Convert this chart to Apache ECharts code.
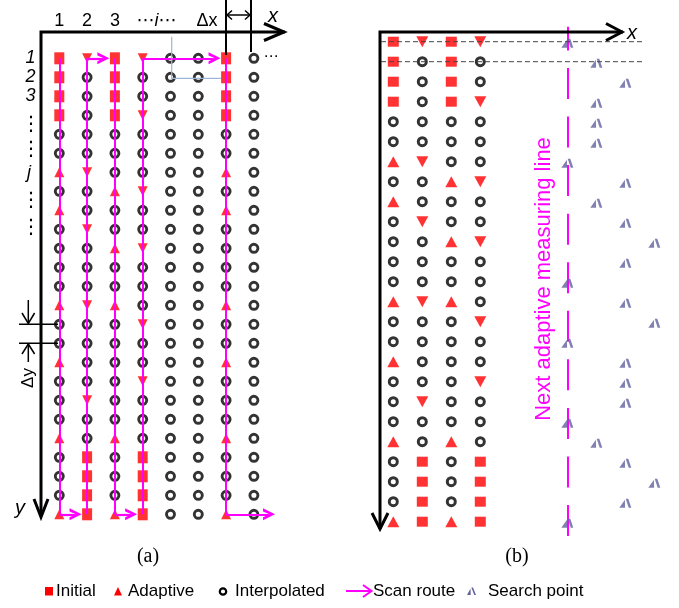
<!DOCTYPE html>
<html><head><meta charset="utf-8">
<script src="https://cdn.jsdelivr.net/npm/echarts@6/dist/echarts.min.js"></script>
<style>html,body{margin:0;padding:0;background:#fff}#c{width:679px;height:608px}</style>
</head><body><div id="c"></div>
<script>
// ---------------- data ----------------
// S = initial, U = adaptive (up), D = adaptive (down), O = interpolated
const gridRows = [
  'SDSDOOSO', 'SOSOOOSO', 'SOSOOOSO', 'SOSDOOSO', 'OOOOOOOO',
  'OOOOOOOO', 'UDOOOOUO', 'OOUDOOOO', 'UOOOOOUO', 'ODOOOOOO',
  'OOUDOOOO', 'OOOOOOOO', 'OOOOOOOO', 'UDUOOOUO', 'OOODOOOO',
  'OOOOOOOO', 'UOOOOOUO', 'OOODOOOO', 'ODOOOOOO', 'OOOOOOOO',
  'UOUOOOUO', 'OSOSOOOO', 'OSOSOOOO', 'OSOSOOOO', 'USUSOOUO'
];
const panelBColumns = 4;
const scanColumns = [1, 2, 3, 4, 7];
const searchCols = [7,8,9,8,8,8,7,9,8,9,10,9,7,9,10,7,9,9,9,7,8,9,10,9,7];
const nextLineCol = 7;
const colLabels = ['1', '2', '3'];
const rowLabels = ['1', '2', '3'];
const legendNames = ['Initial', 'Adaptive', 'Interpolated', 'Scan route', 'Search point'];
const captions = ['(a)', '(b)'];

// ---------------- layout / style ----------------
const RED = '#ff0000', MAG = '#ff00ff', SEARCH = '#62629e';
const SANS = '"Liberation Sans", Arial, "DejaVu Sans"';
const A = {left: 0, top: 0, width: 340, height: 608, x0: 59.3, dx: 27.8, y0: 58.3, dy: 19.0};
const B = {left: 340, top: 0, width: 339, height: 608, x0: 393.3, dx: 29.0, y0: 41.7, dy: 20.0};
function rng(p0, step, start, len) { const mn = 1 - (p0 - start) / step; return {min: mn, max: mn + len / step}; }
const nRows = gridRows.length;

function cellsOf(nc, code) {
  const out = [];
  gridRows.forEach((s, r) => { for (let c = 0; c < nc; c++) if (s[c] === code) out.push([c + 1, r + 1]); });
  return out;
}
function markerSeries(gi, nc, sz) {
  const base = {type: 'scatter', xAxisIndex: gi, yAxisIndex: gi, clip: false, silent: true, z: 3};
  return [
    Object.assign({}, base, {name: legendNames[0], symbol: 'rect', symbolSize: sz.rect, itemStyle: {color: RED}, data: cellsOf(nc, 'S')}),
    Object.assign({}, base, {name: legendNames[1], symbol: 'triangle', symbolSize: sz.tri, itemStyle: {color: RED}, data: cellsOf(nc, 'U')}),
    Object.assign({}, base, {name: legendNames[1], symbol: 'triangle', symbolRotate: 180, symbolSize: sz.tri, itemStyle: {color: RED}, data: cellsOf(nc, 'D')}),
    Object.assign({}, base, {name: legendNames[2], symbol: 'circle', symbolSize: sz.circ, itemStyle: {color: '#fff', borderColor: '#000', borderWidth: sz.bw}, data: cellsOf(nc, 'O')})
  ];
}

// scan route
const CHEV = 'path://M5,0 L10,10 L7.4,10 L5,4.6 L2.6,10 L0,10 Z';
const arrowSize = 12;
const verticalRoute = scanColumns.map(c => ({coords: [[c, 1], [c, nRows]]}));
const connectors = scanColumns.map((c, i) => {
  const row = i % 2 === 0 ? nRows : 1;
  const tip = i < scanColumns.length - 1 ? scanColumns[i + 1] - 0.2 : c + 1.76;
  return {coords: [[c, row], [tip - (arrowSize / 2) / A.dx, row]]};
});

const series = [
  ...markerSeries(0, gridRows[0].length, {rect: [10, 12], tri: [10, 10], circ: 8, bw: 2.9}),
  ...markerSeries(1, panelBColumns, {rect: [11, 10], tri: [12, 11], circ: 8, bw: 3}),
  {type: 'lines', name: legendNames[3], coordinateSystem: 'cartesian2d', xAxisIndex: 0, yAxisIndex: 0, silent: true, z: 5,
   lineStyle: {color: MAG, width: 2, opacity: 1}, data: verticalRoute},
  {type: 'lines', name: legendNames[3], coordinateSystem: 'cartesian2d', xAxisIndex: 0, yAxisIndex: 0, silent: true, z: 5,
   symbol: ['none', CHEV], symbolSize: arrowSize, lineStyle: {color: MAG, width: 2.2, opacity: 1}, data: connectors},
  {type: 'scatter', name: legendNames[4], xAxisIndex: 1, yAxisIndex: 1, clip: false, silent: true, z: 4,
   symbol: 'path://M0,10 L5.6,1.2 L5.8,10 Z M6.4,0 L9,0 L12,10 L9.4,10 Z', symbolSize: [12, 9], symbolOffset: [0, 1.5],
   itemStyle: {color: SEARCH}, data: searchCols.map((c, i) => [c, i + 1])},
  {type: 'lines', coordinateSystem: 'cartesian2d', xAxisIndex: 1, yAxisIndex: 1, silent: true, z: 3,
   lineStyle: {color: MAG, width: 2, opacity: 1, type: [31, 17.56], dashOffset: 7.3},
   data: [{coords: [[nextLineCol, 0.25], [nextLineCol, nRows + 0.75]]}]}
];

// ---------------- decorations ----------------
const G = [];
function L(pts, w, color, extra) {
  G.push({type: 'polyline', z: 10, silent: true, shape: {points: pts},
    style: Object.assign({stroke: color || '#000', lineWidth: w, fill: null, lineJoin: 'miter'}, extra || {})});
}
function T(x, y, text, font, o) {
  o = o || {};
  G.push({type: 'text', z: 10, silent: true, x: x, y: y, rotation: o.rot || 0,
    style: {text: text, font: font, fill: o.color || '#000', textAlign: o.align || 'center', textVerticalAlign: 'middle',
            align: o.align || 'center', verticalAlign: 'middle'}});
}
// panel (a) axes
L([[285, 32], [41, 32], [41, 516]], 3);
L([[34, 499], [41, 517], [48, 499]], 3);
L([[264, 23.5], [284, 32], [264, 40.5]], 3);
// delta x
L([[226, 0], [226, 55]], 2); L([[251, 0], [251, 52]], 2);
L([[226.5, 15], [250.5, 15]], 1.5);
L([[232, 10.5], [227, 15], [232, 19.5]], 1.5);
L([[245, 10.5], [250, 15], [245, 19.5]], 1.5);
// blue cell marker
L([[171.7, 36.7], [171.7, 78.3], [221, 78.3]], 1.2, '#9fb6d6');
// delta y
L([[19, 324.3], [58, 324.3]], 1.5); L([[19, 343.3], [58, 343.3]], 1.5);
L([[28.3, 300], [28.3, 323]], 1.5); L([[22, 313], [28.3, 323.5], [34.6, 313]], 1.5);
L([[28.3, 344], [28.3, 362]], 1.5); L([[22, 354], [28.3, 344], [34.6, 354]], 1.5);
T(28, 378, 'Δy', '17px ' + SANS, {rot: Math.PI / 2});
// labels (a)
colLabels.forEach((t, i) => T(A.x0 + i * A.dx, 21, t, '18px ' + SANS));
T(156.5, 21, '⋯i⋯', 'italic 18px ' + SANS);
T(207, 21, 'Δx', '18px ' + SANS);
T(273, 16, 'x', 'italic 20px ' + SANS);
rowLabels.forEach((t, i) => T(30.5, A.y0 + i * A.dy, t, 'italic 18px ' + SANS));
[124.5, 150, 201, 228].forEach(y => T(31, y, '⋮', '20px "DejaVu Sans"'));
T(29, 173, 'j', 'italic 18px ' + SANS);
T(20, 508, 'y', 'italic 20px ' + SANS);
T(271, 57, '⋯', '15px "DejaVu Sans"');
// panel (b) axes
L([[623, 32], [380, 32], [380, 529]], 3);
L([[606, 23.5], [622, 32], [606, 40.5]], 3);
L([[372, 513], [380, 529], [388, 513]], 3);
L([[381, B.y0], [645, B.y0]], 1, '#444', {lineDash: [5, 3]});
L([[381, B.y0 + B.dy], [645, B.y0 + B.dy]], 1, '#444', {lineDash: [5, 3]});
T(632, 33, 'x', 'italic 20px ' + SANS);
T(544, 279, 'Next adaptive measuring line', '22px ' + SANS, {rot: Math.PI / 2, color: MAG});
// captions
T(148, 557, captions[0], '20px "Liberation Serif"');
T(517, 557, captions[1], '20px "Liberation Serif"');
// legend
const LY = 591;
G.push({type: 'rect', z: 10, silent: true, shape: {x: 45, y: LY - 4, width: 8, height: 8.5}, style: {fill: RED}});
T(56, LY, legendNames[0], '17px ' + SANS, {align: 'left'});
G.push({type: 'polygon', z: 10, silent: true, shape: {points: [[114, LY + 4.5], [118, LY - 4], [122, LY + 4.5]]}, style: {fill: RED}});
T(128, LY, legendNames[1], '17px ' + SANS, {align: 'left'});
G.push({type: 'circle', z: 10, silent: true, shape: {cx: 223, cy: LY + 0.5, r: 3.2}, style: {fill: '#fff', stroke: '#000', lineWidth: 2.2}});
T(235, LY, legendNames[2], '17px ' + SANS, {align: 'left'});
L([[346, LY], [371, LY]], 2, MAG);
L([[363, LY - 6], [371.5, LY], [363, LY + 6]], 2, MAG);
T(373, LY, legendNames[3], '17px ' + SANS, {align: 'left'});
G.push({type: 'polygon', z: 10, silent: true, shape: {points: [[467, LY + 4], [470.5, LY - 2.5], [470.7, LY + 4]]}, style: {fill: SEARCH}});
G.push({type: 'polygon', z: 10, silent: true, shape: {points: [[471.3, LY - 3.5], [473, LY - 3.5], [476, LY + 4], [474.3, LY + 4]]}, style: {fill: SEARCH}});
T(488, LY, legendNames[4], '17px ' + SANS, {align: 'left'});

const chart = echarts.init(document.getElementById('c'), null, {renderer: 'canvas'});
chart.setOption({
  animation: false,
  grid: [
    {left: A.left, top: A.top, width: A.width, height: A.height},
    {left: B.left, top: B.top, width: B.width, height: B.height}
  ],
  xAxis: [
    Object.assign({type: 'value', gridIndex: 0, show: false}, rng(A.x0, A.dx, A.left, A.width)),
    Object.assign({type: 'value', gridIndex: 1, show: false}, rng(B.x0, B.dx, B.left, B.width))
  ],
  yAxis: [
    Object.assign({type: 'value', gridIndex: 0, show: false, inverse: true}, rng(A.y0, A.dy, A.top, A.height)),
    Object.assign({type: 'value', gridIndex: 1, show: false, inverse: true}, rng(B.y0, B.dy, B.top, B.height))
  ],
  series: series,
  graphic: G
});
</script></body></html>
